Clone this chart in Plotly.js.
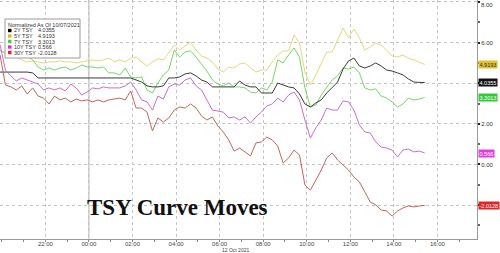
<!DOCTYPE html>
<html><head><meta charset="utf-8">
<script src="https://cdn.plot.ly/plotly-3.0.1.min.js"></script>
<style>html,body{margin:0;padding:0;background:#fff;overflow:hidden}#chart{width:500px;height:253px}</style>
</head><body><div id="chart"></div>
<script>
// ---- data ----
const startTime = '2021-10-11 19:55';
const stepMinutes = 15;
const seriesNames = ['2Y TSY', '5Y TSY', '7Y TSY', '10Y TSY', '30Y TSY'];

const tsy2y = [4.55,4.55,4.55,4.55,4.55,4.55,4.51,4.26,4.26,4.26,
4.26,4.26,4.26,4.26,4.26,4.26,4.26,4.26,4.26,4.26,
4.26,4.26,4.26,4.26,4.26,4.16,4.06,3.87,3.82,3.82,
3.87,4.26,4.26,4.31,4.46,4.51,4.36,4.16,4.06,3.82,
3.82,3.82,3.82,3.82,4.11,3.91,3.82,3.82,3.52,3.52,
3.52,4.01,3.91,3.82,3.77,3.47,2.98,2.83,3.03,3.18,
3.52,3.77,4.06,4.70,5.10,5.24,4.85,4.75,4.85,5.00,
4.85,4.65,4.60,4.51,4.41,4.21,4.06,4.04,4.0355];

const tsy5y = [5.64,5.45,5.38,5.30,5.15,5.05,5.10,5.05,5.00,5.05,
5.05,5.10,5.05,5.05,5.00,5.05,5.10,5.15,5.10,5.15,
5.24,5.05,5.15,5.05,5.24,5.29,5.05,4.85,5.05,5.20,
5.15,5.54,5.88,5.64,5.83,6.03,5.64,5.34,5.24,5.05,
4.70,4.55,4.80,4.75,4.95,5.00,4.75,4.55,4.65,4.65,
5.05,5.39,5.59,5.59,6.38,5.98,4.55,3.91,4.41,4.95,
5.54,5.54,6.13,6.72,6.23,6.67,6.23,5.64,5.79,5.98,
5.88,5.64,5.34,5.29,5.39,5.24,5.15,5.05,4.9193];

const tsy7y = [5.60,5.50,5.45,5.40,5.40,5.35,5.15,4.80,4.65,4.75,
4.65,4.75,4.80,4.65,4.75,4.90,4.80,4.80,4.75,4.80,
4.51,4.51,4.41,4.75,4.31,4.26,4.31,3.67,3.52,4.01,
4.41,4.65,5.64,5.29,5.54,5.59,5.29,4.95,4.60,4.16,
3.96,3.87,4.01,3.82,3.82,3.77,3.57,3.52,3.77,3.67,
4.06,5.15,5.00,5.39,5.74,5.29,3.77,2.83,2.93,3.42,
3.82,4.16,4.36,4.75,4.70,4.80,4.51,3.77,3.67,3.72,
3.37,3.27,3.08,2.83,2.98,3.27,3.18,3.22,3.3013];

const tsy10y = [5.90,4.65,4.36,4.11,4.26,4.16,4.06,3.96,3.67,3.77,
3.67,3.77,3.62,3.96,3.77,3.42,3.57,3.77,3.72,3.82,
3.77,3.77,3.77,3.87,4.06,3.67,3.18,3.08,2.68,3.37,
3.22,3.82,3.96,3.91,4.16,4.26,3.87,3.67,3.18,2.68,
2.63,2.58,2.29,2.34,2.19,2.34,2.04,2.34,2.58,2.88,
2.98,3.27,3.08,3.42,3.57,3.18,2.19,1.30,1.80,2.19,
2.78,2.68,2.68,3.13,3.08,2.68,1.95,1.60,1.55,1.11,
0.86,0.81,0.71,0.37,0.71,0.76,0.62,0.66,0.566];

const tsy30y = [5.40,3.91,3.82,3.67,3.87,3.47,3.77,3.37,3.27,2.98,
3.37,3.18,3.27,3.08,3.22,3.13,3.18,3.08,3.18,3.08,
3.18,3.22,3.27,3.18,3.62,2.78,2.78,2.58,1.65,2.29,
2.09,2.29,2.68,2.83,2.78,2.98,2.78,2.39,2.19,2.34,
1.90,1.60,1.21,0.66,0.81,0.62,0.42,1.06,1.11,1.35,
1.21,0.91,0.07,0.32,0.71,0.47,-1.01,-1.26,-0.76,-0.27,
0.32,0.57,0.22,-0.02,-0.27,-0.62,-0.86,-1.35,-1.85,-1.99,
-2.24,-2.29,-2.54,-2.29,-2.14,-2.04,-2.09,-2.04,-2.0128];

const xTickVals = ['2021-10-11 22:00','2021-10-12 00:00','2021-10-12 02:00','2021-10-12 04:00',
  '2021-10-12 06:00','2021-10-12 08:00','2021-10-12 10:00','2021-10-12 12:00','2021-10-12 14:00','2021-10-12 16:00'];
const xTickText = ['22:00','00:00','02:00','04:00','06:00','08:00','10:00','12:00','14:00','16:00'];
const yTickVals = [-2, 0, 2, 4, 6, 8];
// 4.00 and -2.00 are hidden behind the last-value boxes in the reference;
// 8.00 sits at the very top edge and is drawn as a separate text so it is not dropped
const yTickText = ['', '0.00', '2.00', '', '6.00', ''];
const topTickValue = 8;
const topTickText = '8.00';
const legendTitle = 'Normalized As Of 10/07/2021';
const chartTitle = 'TSY Curve Moves';
const dateLabel = '12 Oct 2021';

// ---- styling ----
const lineColors = ['#3a3a3a', '#e2d97e', '#74d862', '#cc6ccf', '#c0665e'];
const swatchColors = ['#000000', '#e2b52e', '#33dd33', '#ee22ee', '#ee2222'];
const boxColors = ['#111111', '#e3c030', '#36c836', '#e03ee0', '#e42424'];
const boxText = ['#ffffff', '#333333', '#ffffff', '#ffffff', '#ffffff'];

function pad2(n){ return (n < 10 ? '0' : '') + n; }
function buildTimes(n){
  const [d, t] = startTime.split(' ');
  const day0 = parseInt(d.slice(8, 10), 10);
  const [hh, mm] = t.split(':').map(Number);
  const out = [];
  for (let i = 0; i < n; i++) {
    const m = hh * 60 + mm + i * stepMinutes;
    const day = day0 + Math.floor(m / 1440);
    const r = m % 1440;
    out.push(d.slice(0, 8) + pad2(day) + ' ' + pad2(Math.floor(r / 60)) + ':' + pad2(r % 60));
  }
  return out;
}

const allSeries = [tsy2y, tsy5y, tsy7y, tsy10y, tsy30y];
const times = buildTimes(tsy2y.length);
const drawOrder = [1, 2, 0, 3, 4];

const traces = drawOrder.map(k => ({
  type: 'scatter', mode: 'lines', x: times, y: allSeries[k], name: seriesNames[k],
  line: {color: lineColors[k], width: 1}, hoverinfo: 'skip'
}));

const PW = 477, PH = 239;
const px = v => v / PW;
const py = v => 1 - v / PH;
const FONT = 'Liberation Sans, Arial, sans-serif';

const shapes = [
  {type: 'line', xref: 'x', yref: 'paper', x0: '2021-10-12 00:00', x1: '2021-10-12 00:00', y0: 0, y1: 1,
   line: {color: '#b4b4b4', width: 1}, layer: 'below'},
  {type: 'rect', xref: 'paper', yref: 'paper', x0: px(5), x1: px(80), y0: py(58), y1: py(19),
   fillcolor: '#ffffff', line: {color: '#9a9a9a', width: 1}, layer: 'above'}
];
const annotations = [
  {xref: 'paper', yref: 'paper', x: px(7), y: py(24.5), xanchor: 'left', yanchor: 'middle',
   text: legendTitle, showarrow: false, borderpad: 0, font: {family: FONT, size: 5.5, color: '#333'}},
  {xref: 'paper', yref: 'paper', x: px(177), y: py(207), xanchor: 'center', yanchor: 'middle',
   text: '<b>' + chartTitle + '</b>', showarrow: false, borderpad: 0,
   font: {family: 'Liberation Serif, Times New Roman, serif', size: 23, color: '#111'}},
  {xref: 'paper', yref: 'paper', x: px(221), y: py(250.5), xanchor: 'left', yanchor: 'middle',
   text: dateLabel, showarrow: false, borderpad: 0, font: {family: FONT, size: 5, color: '#444'}},
  {xref: 'paper', yref: 'y', x: 1, y: topTickValue, xanchor: 'left', yanchor: 'middle', xshift: 3, yshift: -3.5,
   text: topTickText, showarrow: false, borderpad: 0, font: {family: FONT, size: 6, color: '#333'}}
];
const rowY = [30.5, 36, 41.5, 47, 52.5];
seriesNames.forEach((nm, k) => {
  const last = allSeries[k][allSeries[k].length - 1];
  shapes.push({type: 'rect', xref: 'paper', yref: 'paper', x0: px(8), x1: px(11.5),
    y0: py(rowY[k] + 1.7), y1: py(rowY[k] - 1.7), fillcolor: swatchColors[k],
    line: {width: 0}, layer: 'above'});
  annotations.push({xref: 'paper', yref: 'paper', x: px(13), y: py(rowY[k]), xanchor: 'left', yanchor: 'middle',
    text: nm, showarrow: false, borderpad: 0, font: {family: FONT, size: 5.5, color: '#333'}});
  annotations.push({xref: 'paper', yref: 'paper', x: px(37), y: py(rowY[k]), xanchor: 'left', yanchor: 'middle',
    text: String(last), showarrow: false, borderpad: 0, font: {family: FONT, size: 5.5, color: '#333'}});
  annotations.push({xref: 'paper', yref: 'y', x: 1, y: last, xanchor: 'left', yanchor: 'middle', xshift: 1,
    text: String(last), showarrow: false, borderpad: 0.5, bgcolor: boxColors[k],
    font: {family: FONT, size: 5.5, color: boxText[k]}});
});

const layout = {
  width: 500, height: 253,
  margin: {l: 0, r: 23, t: 0, b: 14, pad: 0},
  paper_bgcolor: '#ffffff', plot_bgcolor: '#ffffff',
  showlegend: false,
  font: {family: FONT, size: 6, color: '#444'},
  xaxis: {
    type: 'date', range: ['2021-10-11 19:55', '2021-10-12 17:49'],
    tickmode: 'array', tickvals: xTickVals, ticktext: xTickText,
    ticks: 'outside', ticklen: 2, tickcolor: '#888', tickwidth: 1,
    ticklabelstandoff: -3,
    showline: true, linecolor: '#9a9a9a', linewidth: 1,
    showgrid: true, gridcolor: '#c4c4c4', griddash: 'dot', gridwidth: 1,
    zeroline: false, tickfont: {family: FONT, size: 6, color: '#444'},
    minor: {tickmode: 'linear', tick0: '2021-10-11 00:00', dtick: 3600000, ticks: 'outside', ticklen: 2,
            tickcolor: '#888', showgrid: false},
    fixedrange: true
  },
  yaxis: {
    side: 'right', range: [-3.668, 8.098],
    tickmode: 'array', tickvals: yTickVals, ticktext: yTickText,
    ticks: 'outside', ticklen: 2, tickwidth: 2, tickcolor: '#222',
    showline: true, linecolor: '#9a9a9a', linewidth: 1,
    showgrid: true, gridcolor: '#c4c4c4', griddash: 'dot', gridwidth: 1,
    zeroline: false, tickfont: {family: FONT, size: 6, color: '#333'},
    minor: {tickmode: 'linear', tick0: 0, dtick: 1, ticks: 'outside', ticklen: 2, tickcolor: '#666', showgrid: false},
    fixedrange: true
  },
  shapes: shapes,
  annotations: annotations
};

Plotly.newPlot('chart', traces, layout, {displayModeBar: false, staticPlot: true});
</script>
</body></html>
